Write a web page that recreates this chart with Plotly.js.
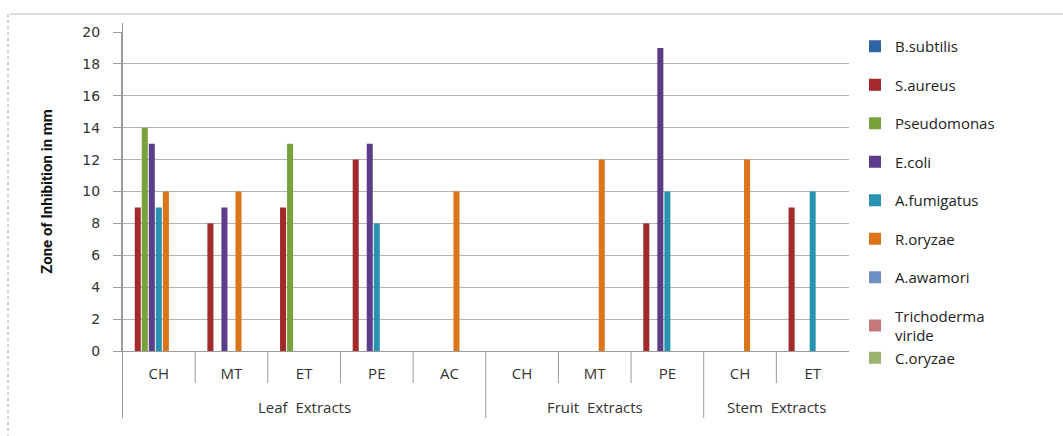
<!DOCTYPE html>
<html>
<head>
<meta charset="utf-8">
<script src="https://cdn.plot.ly/plotly-3.0.1.min.js"></script>
<style>html,body{margin:0;padding:0;background:#fff;}#chart{width:1063px;height:436px;}</style>
</head>
<body>
<div id="chart"></div>
<script>
// Data
var groups = ["Leaf  Extracts","Leaf  Extracts","Leaf  Extracts","Leaf  Extracts","Leaf  Extracts",
              "Fruit  Extracts","Fruit  Extracts","Fruit  Extracts",
              "Stem  Extracts","Stem  Extracts"];
var extracts = ["CH","MT","ET","PE","AC","CH","MT","PE","CH","ET"];
var seriesNames = ["B.subtilis","S.aureus","Pseudomonas","E.coli","A.fumigatus","R.oryzae","A.awamori","Trichoderma<br>viride","C.oryzae"];
var bSubtilis   = [null,null,null,null,null,null,null,null,null,null];
var sAureus     = [9,8,9,12,null,null,null,8,null,9];
var pseudomonas = [14,null,13,null,null,null,null,null,null,null];
var eColi       = [13,9,null,13,null,null,null,19,null,null];
var aFumigatus  = [9,null,null,8,null,null,null,10,null,10];
var rOryzae     = [10,10,null,null,10,null,12,null,12,null];
var aAwamori    = [null,null,null,null,null,null,null,null,null,null];
var trichoderma = [null,null,null,null,null,null,null,null,null,null];
var cOryzae     = [null,null,null,null,null,null,null,null,null,null];

var seriesValues = [bSubtilis,sAureus,pseudomonas,eColi,aFumigatus,rOryzae,aAwamori,trichoderma,cOryzae];
var colors = ["#2E63A6","#A3292A","#7AA23C","#5C3D8A","#2793B0","#DC7419","#6E8FC4","#C7797A","#9AB36E"];

// unique category keys built from the two label levels
var keys = extracts.map(function(e,i){ return groups[i] + "|" + e; });

var traces = seriesNames.map(function(n,i){
  return {
    type:"bar", name:n, x:keys, y:seriesValues[i],
    legendgroup:"g"+Math.min(i,7),
    marker:{color:colors[i], line:{width:0}},
    hoverinfo:"y+name"
  };
});

function px(v){return (v-122)/727;}
function py(v){return (351-v)/319;}

var axisGray = "#9a9a9a";
var shapes = [
  {type:"line", xref:"paper", yref:"paper", x0:px(10), x1:px(1063), y0:py(14), y1:py(14), line:{color:"#b8b8b8", width:1}},
  {type:"line", xref:"paper", yref:"paper", x0:px(8), x1:px(8), y0:py(14), y1:py(436), line:{color:"#a0a0a0", width:1, dash:"dot"}}
];
var annotations = [];
// dividers between extracts (short) and between groups (long)
for (var i = 0; i < keys.length; i++) {
  var isGroupStart = (i === 0) || (groups[i] !== groups[i-1]);
  shapes.push({type:"line", xref:"x", yref:"paper", x0:i-0.5, x1:i-0.5,
    y0: (i === 0 ? py(23) : 0), y1: isGroupStart ? py(418) : py(383),
    line:{color:axisGray, width:1}});
}
// group labels centred under their extracts
var seen = [];
groups.forEach(function(g){ if (seen.indexOf(g) < 0) seen.push(g); });
seen.forEach(function(g){
  var idx = [];
  groups.forEach(function(gg,j){ if (gg === g) idx.push(j); });
  var mid = (idx[0] + idx[idx.length-1]) / 2;
  annotations.push({xref:"x", yref:"paper", x:mid, y:py(407), text:g.replace("  ","&nbsp; "),
    showarrow:false, xanchor:"center", yanchor:"middle",
    font:{family:"Open Sans, sans-serif", size:15, color:"#333"}});
});

var layout = {
  width:1063, height:436,
  margin:{l:122, r:214, t:32, b:85},
  paper_bgcolor:"#fff", plot_bgcolor:"#fff",
  barmode:"group", bargap:0.13, bargroupgap:0.14,
  font:{family:"Open Sans, DejaVu Sans, sans-serif", size:13, color:"#222"},
  xaxis:{
    type:"category", tickmode:"array", tickvals:keys, ticktext:extracts,
    showline:true, linecolor:axisGray, linewidth:1,
    ticks:"outside", ticklen:9, tickcolor:"rgba(0,0,0,0)",
    showgrid:false, fixedrange:true,
    tickfont:{family:"Open Sans, sans-serif", size:15, color:"#333"}
  },
  yaxis:{
    range:[0,20], dtick:2, tick0:0,
    showgrid:true, gridcolor:"#b4b4b4", gridwidth:1,
    showline:true, linecolor:axisGray, linewidth:1,
    ticks:"outside", ticklen:8, tickcolor:axisGray,
    ticklabelstandoff:10,
    zeroline:false,
    tickfont:{family:"DejaVu Sans, sans-serif", size:14, color:"#333"},
    title:{text:"Zone of Inhibition in mm", standoff:26,
      font:{family:"Roboto, sans-serif", size:15, color:"#111", weight:"bold"}}
  },
  legend:{
    x:px(855), y:py(30), xanchor:"left", yanchor:"top",
    font:{family:"Open Sans, sans-serif", size:15, color:"#222"},
    tracegroupgap:16, itemwidth:30, maxheight:420,
    bgcolor:"rgba(0,0,0,0)"
  },
  shapes:shapes,
  annotations:annotations
};

Plotly.newPlot("chart", traces, layout, {displayModeBar:false, staticPlot:true});
</script>
</body>
</html>
